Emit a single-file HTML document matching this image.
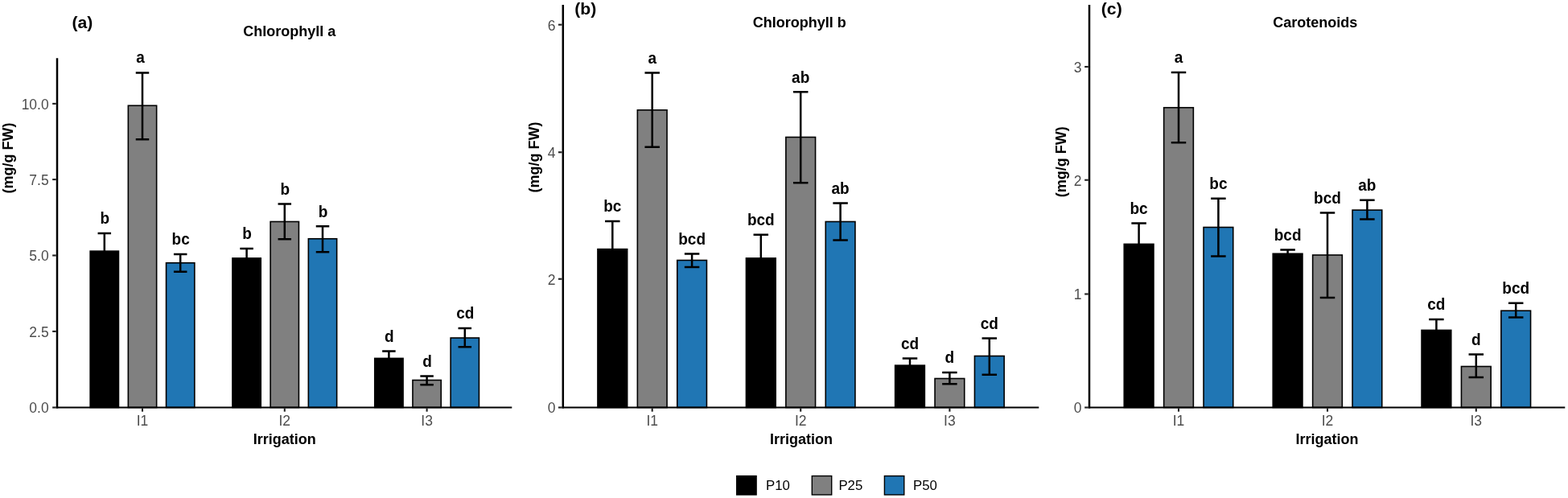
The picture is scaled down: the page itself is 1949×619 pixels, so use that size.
<!DOCTYPE html>
<html lang="en">
<head>
<meta charset="utf-8">
<title>Chlorophyll a, Chlorophyll b and Carotenoids by Irrigation</title>
<style>
html,body{margin:0;padding:0;background:#fff;}
body{width:1949px;height:619px;overflow:hidden;font-family:"Liberation Sans",Arial,Helvetica,sans-serif;}
svg{display:block;}
svg text{font-family:"Liberation Sans",Arial,Helvetica,sans-serif;}
.lab{font-weight:700;text-anchor:middle;fill:#000;}
.ytick{font-size:17.5px;text-anchor:end;fill:#4d4d4d;}
.xtick{font-size:17.5px;text-anchor:middle;fill:#4d4d4d;}
.ttl{font-size:18px;font-weight:700;text-anchor:middle;fill:#000;}
.tag{font-size:20px;font-weight:700;text-anchor:start;fill:#000;}
.leg{font-size:16.8px;text-anchor:start;fill:#000;}
</style>
</head>
<body>
<svg width="1949" height="619" viewBox="0 0 1949 619">
<rect x="0" y="0" width="1949" height="619" fill="#ffffff"/>
<g class="panel">
<rect class="bar" x="112.15" y="312.15" width="35.30" height="194.35" fill="#000000" stroke="#000" stroke-width="1.6"/>
<rect class="bar" x="159.35" y="131.25" width="35.30" height="375.25" fill="#808080" stroke="#000" stroke-width="1.6"/>
<rect class="bar" x="206.55" y="326.75" width="35.30" height="179.75" fill="#2076b4" stroke="#000" stroke-width="1.6"/>
<rect class="bar" x="288.95" y="320.90" width="35.30" height="185.60" fill="#000000" stroke="#000" stroke-width="1.6"/>
<rect class="bar" x="336.15" y="275.50" width="35.30" height="231.00" fill="#808080" stroke="#000" stroke-width="1.6"/>
<rect class="bar" x="383.35" y="296.75" width="35.30" height="209.75" fill="#2076b4" stroke="#000" stroke-width="1.6"/>
<rect class="bar" x="465.75" y="445.40" width="35.30" height="61.10" fill="#000000" stroke="#000" stroke-width="1.6"/>
<rect class="bar" x="512.95" y="472.50" width="35.30" height="34.00" fill="#808080" stroke="#000" stroke-width="1.6"/>
<rect class="bar" x="560.15" y="420.00" width="35.30" height="86.50" fill="#2076b4" stroke="#000" stroke-width="1.6"/>
<path class="err" d="M121.55 289.90H138.05M129.80 289.90V333.20M121.55 333.20H138.05" fill="none" stroke="#000" stroke-width="2.5"/>
<text class="lab" font-size="19.9" transform="translate(130.30 278.40) scale(0.955 1)">b</text>
<path class="err" d="M168.75 90.40H185.25M177.00 90.40V173.20M168.75 173.20H185.25" fill="none" stroke="#000" stroke-width="2.5"/>
<text class="lab" font-size="19.9" transform="translate(174.60 78.10) scale(0.955 1)">a</text>
<path class="err" d="M215.95 315.90H232.45M224.20 315.90V337.70M215.95 337.70H232.45" fill="none" stroke="#000" stroke-width="2.5"/>
<text class="lab" font-size="19.9" transform="translate(224.70 304.40) scale(0.955 1)">bc</text>
<path class="err" d="M298.35 308.90H314.85M306.60 308.90V331.70M298.35 331.70H314.85" fill="none" stroke="#000" stroke-width="2.5"/>
<text class="lab" font-size="19.9" transform="translate(307.10 297.40) scale(0.955 1)">b</text>
<path class="err" d="M345.55 253.40H362.05M353.80 253.40V297.20M345.55 297.20H362.05" fill="none" stroke="#000" stroke-width="2.5"/>
<text class="lab" font-size="19.9" transform="translate(354.30 241.90) scale(0.955 1)">b</text>
<path class="err" d="M392.75 281.15H409.25M401.00 281.15V313.20M392.75 313.20H409.25" fill="none" stroke="#000" stroke-width="2.5"/>
<text class="lab" font-size="19.9" transform="translate(401.50 269.65) scale(0.955 1)">b</text>
<path class="err" d="M475.15 436.40H491.65M483.40 436.40V453.20M475.15 453.20H491.65" fill="none" stroke="#000" stroke-width="2.5"/>
<text class="lab" font-size="19.9" transform="translate(483.90 424.90) scale(0.955 1)">d</text>
<path class="err" d="M522.35 467.40H538.85M530.60 467.40V478.20M522.35 478.20H538.85" fill="none" stroke="#000" stroke-width="2.5"/>
<text class="lab" font-size="19.9" transform="translate(531.10 455.90) scale(0.955 1)">d</text>
<path class="err" d="M569.55 407.90H586.05M577.80 407.90V431.20M569.55 431.20H586.05" fill="none" stroke="#000" stroke-width="2.5"/>
<text class="lab" font-size="19.9" transform="translate(578.30 396.40) scale(0.955 1)">cd</text>
<path class="axis" d="M71.00 72.20V507.45" fill="none" stroke="#000" stroke-width="2.5"/>
<path class="axis" d="M69.75 506.50H636.30" fill="none" stroke="#000" stroke-width="1.9"/>
<path class="tick" d="M65.15 506.50H69.75" stroke="#222" stroke-width="2.1"/>
<text class="ytick" x="60.70" y="513.40">0.0</text>
<path class="tick" d="M65.15 411.90H69.75" stroke="#222" stroke-width="2.1"/>
<text class="ytick" x="60.70" y="418.80">2.5</text>
<path class="tick" d="M65.15 317.50H69.75" stroke="#222" stroke-width="2.1"/>
<text class="ytick" x="60.70" y="324.40">5.0</text>
<path class="tick" d="M65.15 223.10H69.75" stroke="#222" stroke-width="2.1"/>
<text class="ytick" x="60.70" y="230.00">7.5</text>
<path class="tick" d="M65.15 128.90H69.75" stroke="#222" stroke-width="2.1"/>
<text class="ytick" x="60.70" y="135.80">10.0</text>
<path class="tick" d="M177.00 507.45V511.65" stroke="#222" stroke-width="2.1"/>
<text class="xtick" x="177.00" y="529.4">I1</text>
<path class="tick" d="M353.80 507.45V511.65" stroke="#222" stroke-width="2.1"/>
<text class="xtick" x="353.80" y="529.4">I2</text>
<path class="tick" d="M530.60 507.45V511.65" stroke="#222" stroke-width="2.1"/>
<text class="xtick" x="530.60" y="529.4">I3</text>
<text class="ttl" x="359.70" y="45.40">Chlorophyll a</text>
<text class="ttl" x="353.80" y="551.8">Irrigation</text>
<text class="ttl" transform="translate(15.50 196.60) rotate(-90)" x="0" y="0">(mg/g FW)</text>
<g><text class="tag" transform="translate(89.50 34.90) scale(1.06 1)">(a)</text></g>
</g>
<g class="panel">
<rect class="bar" x="742.95" y="309.65" width="36.70" height="196.85" fill="#000000" stroke="#000" stroke-width="1.6"/>
<rect class="bar" x="792.35" y="136.75" width="36.70" height="369.75" fill="#808080" stroke="#000" stroke-width="1.6"/>
<rect class="bar" x="841.75" y="323.50" width="36.70" height="183.00" fill="#2076b4" stroke="#000" stroke-width="1.6"/>
<rect class="bar" x="927.45" y="320.90" width="36.70" height="185.60" fill="#000000" stroke="#000" stroke-width="1.6"/>
<rect class="bar" x="976.85" y="170.50" width="36.70" height="336.00" fill="#808080" stroke="#000" stroke-width="1.6"/>
<rect class="bar" x="1026.25" y="275.50" width="36.70" height="231.00" fill="#2076b4" stroke="#000" stroke-width="1.6"/>
<rect class="bar" x="1112.65" y="454.15" width="36.70" height="52.35" fill="#000000" stroke="#000" stroke-width="1.6"/>
<rect class="bar" x="1162.05" y="470.50" width="36.70" height="36.00" fill="#808080" stroke="#000" stroke-width="1.6"/>
<rect class="bar" x="1211.45" y="442.50" width="36.70" height="64.00" fill="#2076b4" stroke="#000" stroke-width="1.6"/>
<path class="err" d="M752.05 274.90H770.55M761.30 274.90V343.20M752.05 343.20H770.55" fill="none" stroke="#000" stroke-width="2.5"/>
<text class="lab" font-size="19.4" transform="translate(761.30 263.30) scale(0.98 1)">bc</text>
<path class="err" d="M801.45 90.40H819.95M810.70 90.40V182.70M801.45 182.70H819.95" fill="none" stroke="#000" stroke-width="2.5"/>
<text class="lab" font-size="19.4" transform="translate(810.70 78.80) scale(0.98 1)">a</text>
<path class="err" d="M850.85 315.40H869.35M860.10 315.40V331.95M850.85 331.95H869.35" fill="none" stroke="#000" stroke-width="2.5"/>
<text class="lab" font-size="19.4" transform="translate(860.10 303.80) scale(0.98 1)">bcd</text>
<path class="err" d="M936.55 291.65H955.05M945.80 291.65V348.95M936.55 348.95H955.05" fill="none" stroke="#000" stroke-width="2.5"/>
<text class="lab" font-size="19.4" transform="translate(945.80 280.05) scale(0.98 1)">bcd</text>
<path class="err" d="M985.95 114.15H1004.45M995.20 114.15V227.20M985.95 227.20H1004.45" fill="none" stroke="#000" stroke-width="2.5"/>
<text class="lab" font-size="19.4" transform="translate(995.20 102.55) scale(0.98 1)">ab</text>
<path class="err" d="M1035.35 252.40H1053.85M1044.60 252.40V298.45M1035.35 298.45H1053.85" fill="none" stroke="#000" stroke-width="2.5"/>
<text class="lab" font-size="19.4" transform="translate(1044.60 240.80) scale(0.98 1)">ab</text>
<path class="err" d="M1121.75 445.40H1140.25M1131.00 445.40V461.70M1121.75 461.70H1140.25" fill="none" stroke="#000" stroke-width="2.5"/>
<text class="lab" font-size="19.4" transform="translate(1131.00 433.80) scale(0.98 1)">cd</text>
<path class="err" d="M1171.15 462.90H1189.65M1180.40 462.90V477.20M1171.15 477.20H1189.65" fill="none" stroke="#000" stroke-width="2.5"/>
<text class="lab" font-size="19.4" transform="translate(1180.40 451.30) scale(0.98 1)">d</text>
<path class="err" d="M1220.55 420.40H1239.05M1229.80 420.40V465.70M1220.55 465.70H1239.05" fill="none" stroke="#000" stroke-width="2.5"/>
<text class="lab" font-size="19.4" transform="translate(1229.80 408.80) scale(0.98 1)">cd</text>
<path class="axis" d="M699.80 6.00V507.45" fill="none" stroke="#000" stroke-width="2.5"/>
<path class="axis" d="M698.55 506.50H1291.30" fill="none" stroke="#000" stroke-width="1.9"/>
<path class="tick" d="M693.95 506.50H698.55" stroke="#222" stroke-width="2.1"/>
<text class="ytick" x="690.40" y="513.40">0</text>
<path class="tick" d="M693.95 346.75H698.55" stroke="#222" stroke-width="2.1"/>
<text class="ytick" x="690.40" y="353.65">2</text>
<path class="tick" d="M693.95 189.25H698.55" stroke="#222" stroke-width="2.1"/>
<text class="ytick" x="690.40" y="196.15">4</text>
<path class="tick" d="M693.95 30.70H698.55" stroke="#222" stroke-width="2.1"/>
<text class="ytick" x="690.40" y="37.60">6</text>
<path class="tick" d="M810.70 507.45V511.65" stroke="#222" stroke-width="2.1"/>
<text class="xtick" x="810.70" y="529.4">I1</text>
<path class="tick" d="M995.20 507.45V511.65" stroke="#222" stroke-width="2.1"/>
<text class="xtick" x="995.20" y="529.4">I2</text>
<path class="tick" d="M1180.40 507.45V511.65" stroke="#222" stroke-width="2.1"/>
<text class="xtick" x="1180.40" y="529.4">I3</text>
<text class="ttl" x="993.70" y="33.50">Chlorophyll b</text>
<text class="ttl" x="995.90" y="551.8">Irrigation</text>
<text class="ttl" transform="translate(670.20 195.40) rotate(-90)" x="0" y="0">(mg/g FW)</text>
<g><text class="tag" transform="translate(714.30 18.40) scale(1.06 1)">(b)</text></g>
</g>
<g class="panel">
<rect class="bar" x="1397.25" y="303.40" width="36.70" height="203.10" fill="#000000" stroke="#000" stroke-width="1.6"/>
<rect class="bar" x="1446.65" y="133.75" width="36.70" height="372.75" fill="#808080" stroke="#000" stroke-width="1.6"/>
<rect class="bar" x="1496.05" y="282.50" width="36.70" height="224.00" fill="#2076b4" stroke="#000" stroke-width="1.6"/>
<rect class="bar" x="1582.25" y="315.30" width="36.70" height="191.20" fill="#000000" stroke="#000" stroke-width="1.6"/>
<rect class="bar" x="1631.65" y="317.00" width="36.70" height="189.50" fill="#808080" stroke="#000" stroke-width="1.6"/>
<rect class="bar" x="1681.05" y="261.10" width="36.70" height="245.40" fill="#2076b4" stroke="#000" stroke-width="1.6"/>
<rect class="bar" x="1767.05" y="410.40" width="36.70" height="96.10" fill="#000000" stroke="#000" stroke-width="1.6"/>
<rect class="bar" x="1816.45" y="455.50" width="36.70" height="51.00" fill="#808080" stroke="#000" stroke-width="1.6"/>
<rect class="bar" x="1865.85" y="386.20" width="36.70" height="120.30" fill="#2076b4" stroke="#000" stroke-width="1.6"/>
<path class="err" d="M1406.35 277.40H1424.85M1415.60 277.40V328.20M1406.35 328.20H1424.85" fill="none" stroke="#000" stroke-width="2.5"/>
<text class="lab" font-size="19.4" transform="translate(1415.60 265.80) scale(0.98 1)">bc</text>
<path class="err" d="M1455.75 89.90H1474.25M1465.00 89.90V177.20M1455.75 177.20H1474.25" fill="none" stroke="#000" stroke-width="2.5"/>
<text class="lab" font-size="19.4" transform="translate(1465.00 78.30) scale(0.98 1)">a</text>
<path class="err" d="M1505.15 246.65H1523.65M1514.40 246.65V318.45M1505.15 318.45H1523.65" fill="none" stroke="#000" stroke-width="2.5"/>
<text class="lab" font-size="19.4" transform="translate(1514.40 235.05) scale(0.98 1)">bc</text>
<path class="err" d="M1591.35 310.40H1609.85M1600.60 310.40V319.00M1591.35 319.00H1609.85" fill="none" stroke="#000" stroke-width="2.5"/>
<text class="lab" font-size="19.4" transform="translate(1600.60 298.80) scale(0.98 1)">bcd</text>
<path class="err" d="M1640.75 264.60H1659.25M1650.00 264.60V369.90M1640.75 369.90H1659.25" fill="none" stroke="#000" stroke-width="2.5"/>
<text class="lab" font-size="19.4" transform="translate(1650.00 253.00) scale(0.98 1)">bcd</text>
<path class="err" d="M1690.15 248.80H1708.65M1699.40 248.80V272.50M1690.15 272.50H1708.65" fill="none" stroke="#000" stroke-width="2.5"/>
<text class="lab" font-size="19.4" transform="translate(1699.40 237.20) scale(0.98 1)">ab</text>
<path class="err" d="M1776.15 396.90H1794.65M1785.40 396.90V422.70M1776.15 422.70H1794.65" fill="none" stroke="#000" stroke-width="2.5"/>
<text class="lab" font-size="19.4" transform="translate(1785.40 385.30) scale(0.98 1)">cd</text>
<path class="err" d="M1825.55 440.40H1844.05M1834.80 440.40V468.95M1825.55 468.95H1844.05" fill="none" stroke="#000" stroke-width="2.5"/>
<text class="lab" font-size="19.4" transform="translate(1834.80 428.80) scale(0.98 1)">d</text>
<path class="err" d="M1874.95 376.70H1893.45M1884.20 376.70V394.60M1874.95 394.60H1893.45" fill="none" stroke="#000" stroke-width="2.5"/>
<text class="lab" font-size="19.4" transform="translate(1884.20 365.10) scale(0.98 1)">bcd</text>
<path class="axis" d="M1354.00 6.00V507.45" fill="none" stroke="#000" stroke-width="2.5"/>
<path class="axis" d="M1352.75 506.50H1945.30" fill="none" stroke="#000" stroke-width="1.9"/>
<path class="tick" d="M1348.15 506.50H1352.75" stroke="#222" stroke-width="2.1"/>
<text class="ytick" x="1344.60" y="513.40">0</text>
<path class="tick" d="M1348.15 365.50H1352.75" stroke="#222" stroke-width="2.1"/>
<text class="ytick" x="1344.60" y="372.40">1</text>
<path class="tick" d="M1348.15 223.75H1352.75" stroke="#222" stroke-width="2.1"/>
<text class="ytick" x="1344.60" y="230.65">2</text>
<path class="tick" d="M1348.15 83.00H1352.75" stroke="#222" stroke-width="2.1"/>
<text class="ytick" x="1344.60" y="89.90">3</text>
<path class="tick" d="M1465.00 507.45V511.65" stroke="#222" stroke-width="2.1"/>
<text class="xtick" x="1465.00" y="529.4">I1</text>
<path class="tick" d="M1650.00 507.45V511.65" stroke="#222" stroke-width="2.1"/>
<text class="xtick" x="1650.00" y="529.4">I2</text>
<path class="tick" d="M1834.80 507.45V511.65" stroke="#222" stroke-width="2.1"/>
<text class="xtick" x="1834.80" y="529.4">I3</text>
<text class="ttl" x="1634.70" y="33.50">Carotenoids</text>
<text class="ttl" x="1649.50" y="551.8">Irrigation</text>
<text class="ttl" transform="translate(1324.50 201.30) rotate(-90)" x="0" y="0">(mg/g FW)</text>
<g><text class="tag" transform="translate(1368.80 18.40) scale(1.06 1)">(c)</text></g>
</g>
<g class="legend">
<rect x="915.70" y="591.6" width="24.4" height="23.4" fill="#000000" stroke="#000" stroke-width="1.4"/>
<text class="leg" x="952.00" y="609.1">P10</text>
<rect x="1009.30" y="591.6" width="24.4" height="23.4" fill="#808080" stroke="#000" stroke-width="1.4"/>
<text class="leg" x="1042.40" y="609.1">P25</text>
<rect x="1099.40" y="591.6" width="24.4" height="23.4" fill="#2076b4" stroke="#000" stroke-width="1.4"/>
<text class="leg" x="1135.00" y="609.1">P50</text>
</g>
</svg>
</body>
</html>
